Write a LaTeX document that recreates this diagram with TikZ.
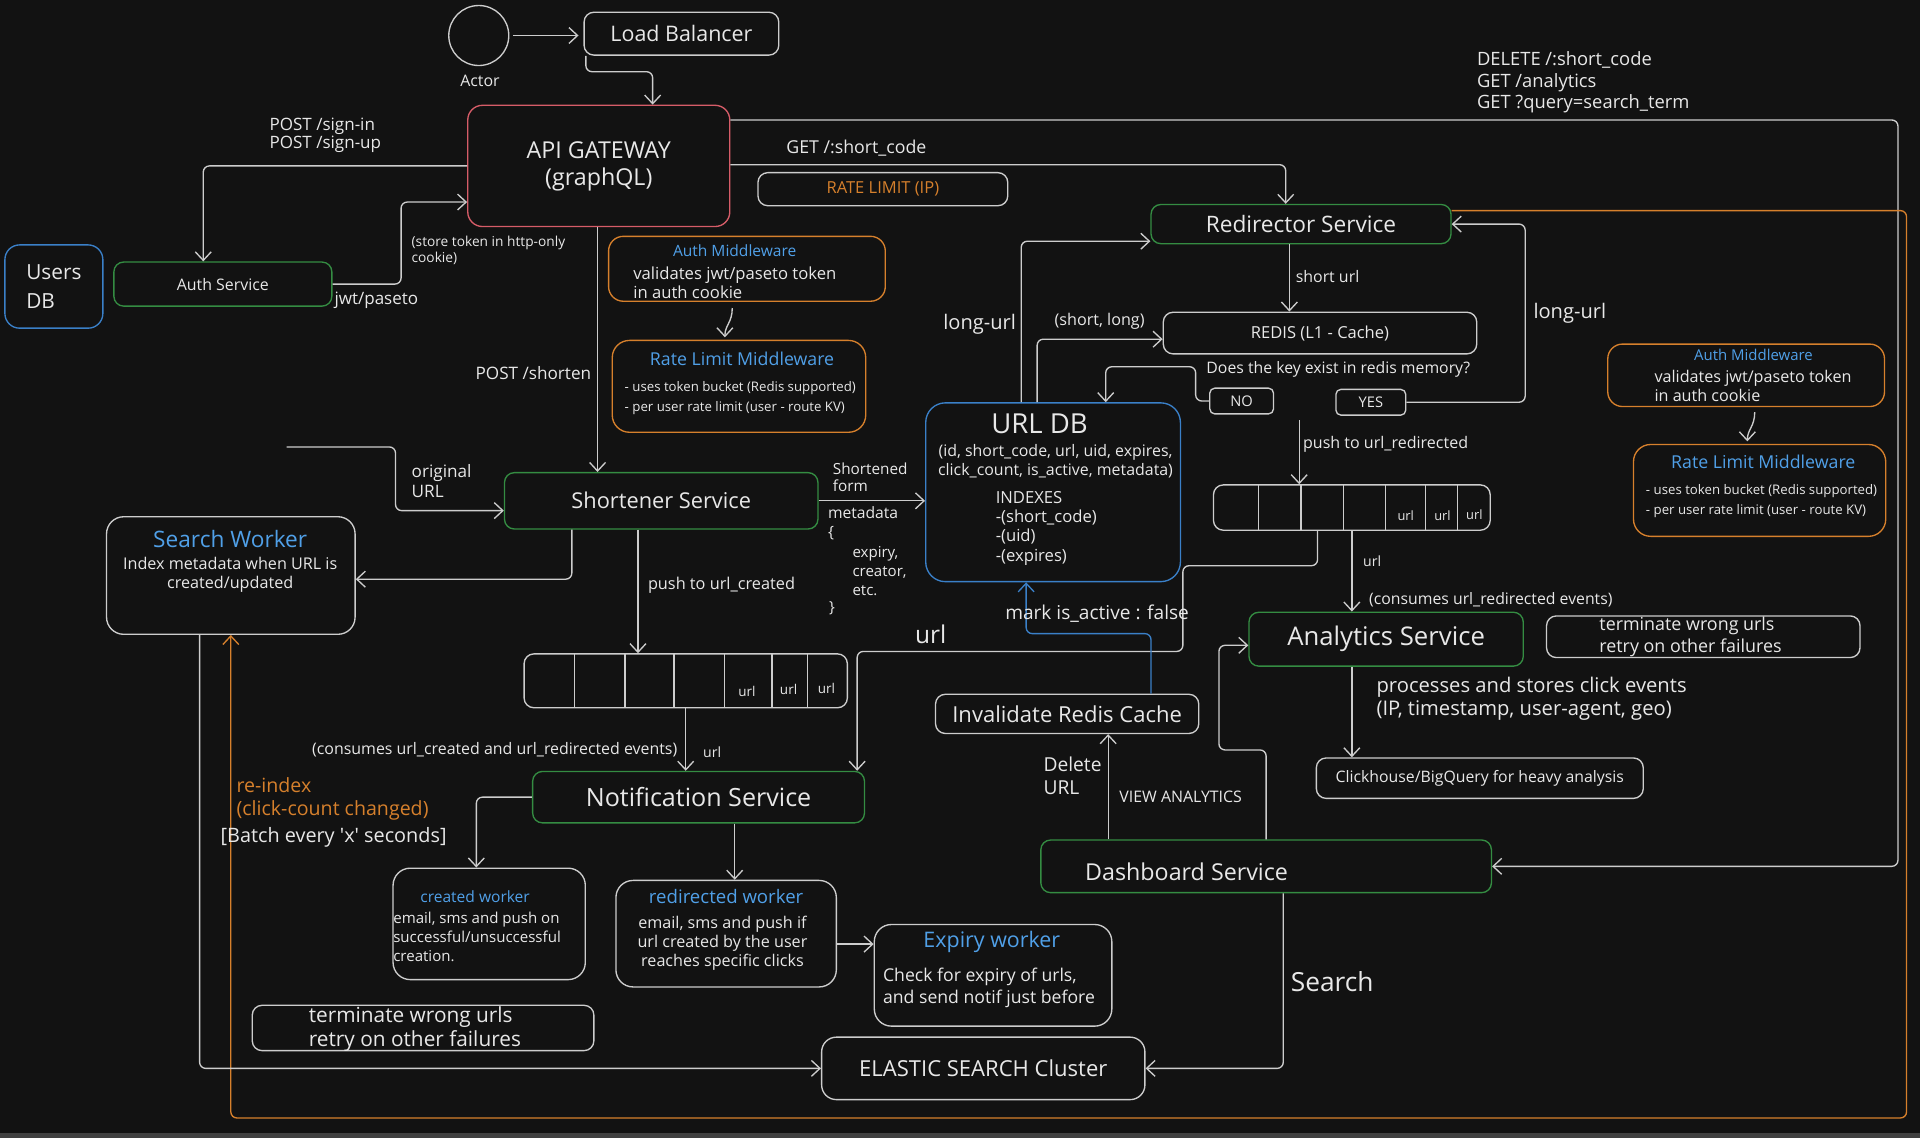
\documentclass[tikz,border=0pt]{standalone}
\usepackage{fontspec}
\setmainfont{Open Sans}
\usetikzlibrary{arrows.meta,calc}
\definecolor{bg}{RGB}{18,18,18}
\definecolor{ln}{RGB}{205,205,205}
\definecolor{tx}{RGB}{232,232,232}
\definecolor{gr}{RGB}{52,140,66}
\definecolor{rd}{RGB}{214,92,104}
\definecolor{og}{RGB}{214,128,44}
\definecolor{bl}{RGB}{58,128,200}
\definecolor{blt}{RGB}{80,160,232}
\definecolor{strip}{RGB}{64,64,64}
\newcommand\fz[2]{\fontsize{#1pt}{#2pt}\selectfont}
\begin{document}
\begin{tikzpicture}[x=1pt,y=-1pt,
  box/.style={draw=ln,fill=bg,rounded corners=8pt,line width=1.1pt,inner sep=0pt,text=tx,align=center},
  lbl/.style={text=tx,inner sep=0pt,align=left},
  arr/.style={draw=ln,line width=1.1pt,rounded corners=5pt,-{Straight Barb[length=7pt,width=13pt,line width=1.1pt]}},
  oarr/.style={arr,draw=og},
  barr/.style={arr,draw=bl},
  qline/.style={draw=ln,line width=1pt}
]
\useasboundingbox (0,0) rectangle (1568,929);
\fill[bg] (0,0) rectangle (1568,929);
\fill[strip] (0,925) rectangle (1568,929);

% ---------- boxes ----------
\node[draw=ln,line width=1.1pt,circle,minimum size=49pt,inner sep=0pt] (actor) at (391,29) {};
\node[lbl,font=\fz{13}{15}] (actorlbl) at (392,66) {Actor};
\node[box,minimum width=159pt,minimum height=35pt,font=\fz{17.5}{20}] (lb) at (556.5,27.5) {Load Balancer};
\node[box,draw=rd,rounded corners=12pt,minimum width=214pt,minimum height=99pt,font=\fz{19}{22}] (api) at (489,135.5) {API GATEWAY\\(graphQL)};
\node[box,draw=bl,rounded corners=12pt,minimum width=80pt,minimum height=68pt,font=\fz{17}{24},align=left] (users) at (44,234) {Users\\DB};
\node[box,draw=gr,minimum width=178pt,minimum height=36pt,font=\fz{13}{15}] (auth) at (182,232) {Auth Service};
\node[box,minimum width=204pt,minimum height=27pt,text=og,font=\fz{13.5}{15}] (rlip) at (721,154.5) {RATE LIMIT (IP)};
\node[box,draw=gr,minimum width=245pt,minimum height=32pt,font=\fz{18.5}{21}] (redir) at (1062.5,183) {Redirector Service};
\node[box,draw=og,rounded corners=12pt,minimum width=226pt,minimum height=53pt] (authmw) at (610,219.5) {};
\node[box,draw=og,rounded corners=14pt,minimum width=207pt,minimum height=75pt] (ratemw) at (603.5,315.5) {};
\node[box,draw=gr,minimum width=256pt,minimum height=46pt,font=\fz{17.8}{20}] (short) at (540,409) {Shortener Service};
\node[box,rounded corners=14pt,minimum width=203pt,minimum height=96pt] (searchw) at (188.5,470) {};
\node[box,draw=bl,rounded corners=16pt,minimum width=208pt,minimum height=146pt] (urldb) at (860,402) {};
\node[box,minimum width=264pt,minimum height=44pt] (q1) at (560,556) {};
\node[box,draw=gr,minimum width=271pt,minimum height=42pt,font=\fz{20.5}{22}] (notif) at (570.5,651) {Notification Service};
\node[box,minimum width=226pt,minimum height=37pt] (q2) at (1104,414.5) {};
\node[box,minimum width=256pt,minimum height=34pt,font=\fz{13.5}{15}] (redis) at (1078,272) {REDIS (L1 - Cache)};
\node[box,rounded corners=4pt,minimum width=52pt,minimum height=21pt,font=\fz{12}{14}] (no) at (1014,327.5) {NO};
\node[box,rounded corners=4pt,minimum width=57pt,minimum height=21pt,font=\fz{12}{14}] (yes) at (1119.5,328.5) {YES};
\node[box,draw=og,rounded corners=12pt,minimum width=226pt,minimum height=51pt] (authmw2) at (1426,306.5) {};
\node[box,draw=og,rounded corners=14pt,minimum width=206pt,minimum height=75pt] (ratemw2) at (1437,400.5) {};
\node[box,draw=gr,minimum width=224pt,minimum height=44pt,font=\fz{21}{23}] (analytics) at (1132,522) {Analytics Service};
\node[box,minimum width=256pt,minimum height=34pt] (term2) at (1391,520) {};
\node[box,minimum width=267pt,minimum height=33pt,font=\fz{12.9}{15}] (click) at (1208.5,635.5) {Clickhouse/BigQuery for heavy analysis};
\node[box,minimum width=215pt,minimum height=32pt,font=\fz{18}{20}] (inval) at (871.5,583) {Invalidate Redis Cache};
\node[box,draw=gr,minimum width=368pt,minimum height=43pt] (dash) at (1034,707.5) {};
\node[box,rounded corners=12pt,minimum width=264pt,minimum height=51pt,font=\fz{18}{20}] (elastic) at (803,872.5) {ELASTIC SEARCH Cluster};
\node[box,rounded corners=14pt,minimum width=157pt,minimum height=91pt] (createdw) at (399.5,754.5) {};
\node[box,rounded corners=14pt,minimum width=180pt,minimum height=87pt] (redirw) at (593,762.5) {};
\node[box,rounded corners=14pt,minimum width=194pt,minimum height=83pt] (expiry) at (811,796.5) {};
\node[box,minimum width=279pt,minimum height=37pt] (term1) at (345.5,839.5) {};

% queue dividers
\foreach \o in {42,83,123,164,203,232}
  \draw[qline] ([xshift=\o pt]q1.north west) -- ([xshift=\o pt]q1.south west);
\foreach \o in {37,72,107,141,174,200}
  \draw[qline] ([xshift=\o pt]q2.north west) -- ([xshift=\o pt]q2.south west);

% ---------- texts inside boxes ----------
\node[lbl,text=blt,font=\fz{12.7}{15}] (amwt) at (600,205) {Auth Middleware};
\node[lbl,font=\fz{13.6}{16},anchor=west] (amwb) at (517,231) {validates jwt/paseto token\\in auth cookie};
\node[lbl,text=blt,font=\fz{14.5}{17}] (rmwt) at (606,293) {Rate Limit Middleware};
\node[lbl,font=\fz{10.8}{16},anchor=west] (rmwb) at (510,325) {- uses token bucket (Redis supported)\\- per user rate limit (user - route KV)};
\node[lbl,text=blt,font=\fz{18.5}{21}] (swt) at (188,440) {Search Worker};
\node[lbl,font=\fz{13.2}{15},align=center] (swb) at (188,469.5) {Index metadata when URL is\\created/updated};
\node[lbl,font=\fz{22.5}{25}] (urldbt) at (849,346) {URL DB};
\node[lbl,font=\fz{13}{15},align=center] (urldbf) at (862,376.5) {(id, short\_code, url, uid, expires,\\click\_count, is\_active, metadata)};
\node[lbl,font=\fz{13.6}{15.6},anchor=west] (urldbi) at (813,431.5) {INDEXES\\-(short\_code)\\-(uid)\\-(expires)};
\node[lbl,font=\fz{11}{12}] (q1u1) at (610,565) {url};
\node[lbl,font=\fz{11}{12}] (q1u2) at (644,563) {url};
\node[lbl,font=\fz{11}{12}] (q1u3) at (675,562) {url};
\node[lbl,font=\fz{10.5}{12}] (q2u1) at (1148,421) {url};
\node[lbl,font=\fz{10.5}{12}] (q2u2) at (1178,421) {url};
\node[lbl,font=\fz{10.5}{12}] (q2u3) at (1204,420) {url};
\node[lbl,text=blt,font=\fz{12.2}{14}] (amw2t) at (1432,290) {Auth Middleware};
\node[lbl,font=\fz{13.2}{15.5},anchor=west] (amw2b) at (1351,315.5) {validates jwt/paseto token\\in auth cookie};
\node[lbl,text=blt,font=\fz{14.5}{17}] (rmw2t) at (1440,377) {Rate Limit Middleware};
\node[lbl,font=\fz{10.8}{16},anchor=west] (rmw2b) at (1344,409) {- uses token bucket (Redis supported)\\- per user rate limit (user - route KV)};
\node[lbl,font=\fz{14.6}{18},anchor=west] (term2t) at (1306,520) {terminate wrong urls\\retry on other failures};
\node[lbl,font=\fz{19}{21},anchor=west] (dasht) at (886,712) {Dashboard Service};
\node[lbl,text=blt,font=\fz{12.7}{15}] (cwt) at (388,732) {created worker};
\node[lbl,font=\fz{12.3}{15.5},anchor=west] (cwb) at (321,765.5) {email, sms and push on\\successful/unsuccessful\\creation.};
\node[lbl,text=blt,font=\fz{15.2}{17}] (rwt) at (593,732) {redirected worker};
\node[lbl,font=\fz{13.2}{15.5},align=center] (rwb) at (590,770.5) {email, sms and push if\\url created by the user\\reaches specific clicks};
\node[lbl,text=blt,font=\fz{17.5}{20}] (ewt) at (810,769) {Expiry worker};
\node[lbl,font=\fz{14.4}{18},anchor=west] (ewb) at (721,807) {Check for expiry of urls,\\and send notif just before};
\node[lbl,font=\fz{17}{19},anchor=west] (term1t) at (252,840.5) {terminate wrong urls\\retry on other failures};

% ---------- connectors ----------
\draw[arr,shorten <=3pt,shorten >=4pt] (actor.east) -- (actor.east -| lb.west);
\draw[arr] ([xshift=2pt]lb.south west) -- ++(0,13) -| ([xshift=44pt]api.north);
\draw[arr] (api.west) -| ([xshift=-16pt]auth.north);
\draw[arr] (auth.east) -- ++(56,0) |- ([yshift=-29.5pt]api.west);
\draw[arr] ([yshift=1pt]api.east) -| ([xshift=-12.5pt]redir.north);
\draw[arr] ([yshift=37.5pt]api.east) -- (1550,98) |- (dash.east);
\draw[oarr] ([yshift=11pt]redir.east) -- (1557,172) -- (1557,913) -| (searchw.south);
\draw[arr] ([xshift=-12pt,yshift=-5pt]authmw.south) .. controls +(0,12) and +(0,-10) .. ([xshift=-11.5pt,yshift=2pt]ratemw.north);
\draw[arr] ([xshift=7pt,yshift=-4pt]authmw2.south) .. controls +(0,12) and +(0,-10) .. ([xshift=-10pt,yshift=2pt]ratemw2.north);
\draw[arr] ([xshift=-1pt]api.south) -- ([xshift=-52pt]short.north);
\coordinate (origsrc) at (234,365);
\draw[arr] (origsrc) -- ++(89,0) |- ([yshift=-8pt]short.west);
\draw[arr] ([xshift=-73pt]short.south) |- ([yshift=-3pt]searchw.east);
\draw[arr] (short.east) -- (short.east -| urldb.west);
\draw[arr] ([xshift=-19pt]short.south) -- ([xshift=-39pt]q1.north);
\draw[arr] (q1.south) -- (q1.south |- notif.north);
\draw[arr] ([xshift=-28pt]q2.south) |- (966,462) -- (966,532) -| ([xshift=129.5pt]notif.north);
\draw[arr] ([xshift=-9.5pt]redir.south) -- ([xshift=-9.5pt]redir.south |- redis.north);
\draw[arr] ([xshift=-26pt]urldb.north) |- ([yshift=-14pt]redir.west);
\draw[arr] ([xshift=-13pt]urldb.north) |- ([yshift=-5pt]redis.west);
\draw[arr] (no.west) -- ++(-11,0) -- ++(0,-28) -| ([xshift=43pt]urldb.north);
\draw[arr] (yes.east) -- ++(97,0) |- (redir.east);
\coordinate (pushsrc) at (1061,343);
\draw[arr] (pushsrc) -- (pushsrc |- q2.north);
\draw[arr] (q2.south) -- (q2.south |- analytics.north);
\draw[arr] ([xshift=-28pt]analytics.south) -- ([xshift=-28pt]analytics.south |- click.north);
\draw[barr] ([xshift=68.5pt]inval.north) -- ++(0,-49) -| ([xshift=-22pt]urldb.south);
\draw[arr] ([xshift=-129pt]dash.north) -- ([xshift=-129pt]dash.north |- inval.south);
\draw[arr] (dash.north) -- ++(0,-73) -| ([xshift=-24pt,yshift=-5pt]analytics.west) -- ([yshift=-5pt]analytics.west);
\draw[arr] ([xshift=14pt]dash.south) |- (elastic.east);
\draw[arr] ([xshift=-25.5pt]searchw.south) |- (elastic.west);
\draw[arr] (notif.west) -| ([xshift=-10.5pt]createdw.north);
\draw[arr] ([xshift=29.5pt]notif.south) -- ([xshift=29.5pt]notif.south |- redirw.north);
\draw[arr] ([yshift=-8.5pt]redirw.east) -- ([yshift=-8.5pt]redirw.east -| expiry.west);

% ---------- connector labels ----------
\node[lbl,font=\fz{13.9}{15},anchor=west] (signlbl) at (220,110.5) {POST /sign-in\\POST /sign-up};
\node[lbl,font=\fz{13.9}{15},anchor=west] (jwtlbl) at (273,245) {jwt/paseto};
\node[lbl,font=\fz{11.2}{13},anchor=west] (storelbl) at (336,204.5) {(store token in http-only\\cookie)};
\node[lbl,font=\fz{14.5}{16},anchor=west] (getlbl) at (642,121) {GET /:short\_code};
\node[lbl,font=\fz{15}{17.5},anchor=west] (dellbl) at (1206,67.5) {DELETE /:short\_code\\GET /analytics\\GET ?query=search\_term};
\node[lbl,font=\fz{14}{15},anchor=east] (shortenlbl) at (483,305) {POST /shorten};
\node[lbl,font=\fz{14}{16},anchor=west] (origlbl) at (336,393) {original\\URL};
\node[lbl,font=\fz{12.5}{14},anchor=west] (sflbl) at (680,390) {Shortened\\form};
\node[lbl,font=\fz{12.8}{15.3},anchor=west] (metalbl) at (676,427.5) {metadata\\\{};
\node[lbl,font=\fz{12.3}{15.5},anchor=west] (expirylbl) at (696,466.5) {expiry,\\creator,\\etc.};
\node[lbl,font=\fz{12.5}{14},anchor=west] (bracelbl) at (677,497) {\}};
\node[lbl,font=\fz{13.3}{15},anchor=west] (pushc) at (529,478) {push to url\_created};
\node[lbl,font=\fz{11.5}{13},anchor=west] (q1url) at (574,614) {url};
\node[lbl,font=\fz{13}{15}] (conslbl) at (404,612) {(consumes url\_created and url\_redirected events)};
\node[lbl,font=\fz{20}{22}] (urlbig) at (760,518) {url};
\node[lbl,font=\fz{13}{15},anchor=west] (shorturl) at (1058,226) {short url};
\node[lbl,font=\fz{16.4}{18}] (longl) at (800,265) {long-url};
\node[lbl,font=\fz{16.4}{18}] (longr) at (1282,256) {long-url};
\node[lbl,font=\fz{13.2}{15}] (shortlong) at (898,262) {(short, long)};
\node[lbl,font=\fz{12.9}{15}] (doeslbl) at (1093,302) {Does the key exist in redis memory?};
\node[lbl,font=\fz{13.1}{15},anchor=west] (pushr) at (1064,363) {push to url\_redirected};
\node[lbl,font=\fz{11.5}{13},anchor=west] (q2url) at (1113,458) {url};
\node[lbl,font=\fz{12.9}{15},anchor=west] (consr) at (1118,490) {(consumes url\_redirected events)};
\node[lbl,font=\fz{16.5}{19},anchor=west] (proclbl) at (1124,570.5) {processes and stores click events\\(IP, timestamp, user-agent, geo)};
\node[lbl,font=\fz{15.6}{17}] (marklbl) at (896,501) {mark is\_active : false};
\node[lbl,font=\fz{15.7}{19},anchor=west] (dellbl2) at (852,633.5) {Delete\\URL};
\node[lbl,font=\fz{13}{15},anchor=west] (viewlbl) at (914,651) {VIEW ANALYTICS};
\node[lbl,font=\fz{21.5}{24},anchor=west] (searchlbl) at (1054,802) {Search};
\node[lbl,text=og,font=\fz{16}{19},anchor=west] (reidx) at (193,652.5) {re-index\\(click-count changed)};
\node[lbl,font=\fz{16.2}{18},anchor=west] (batch) at (180,684) {[Batch every \textquotesingle x\textquotesingle\ seconds]};
\end{tikzpicture}
\end{document}
